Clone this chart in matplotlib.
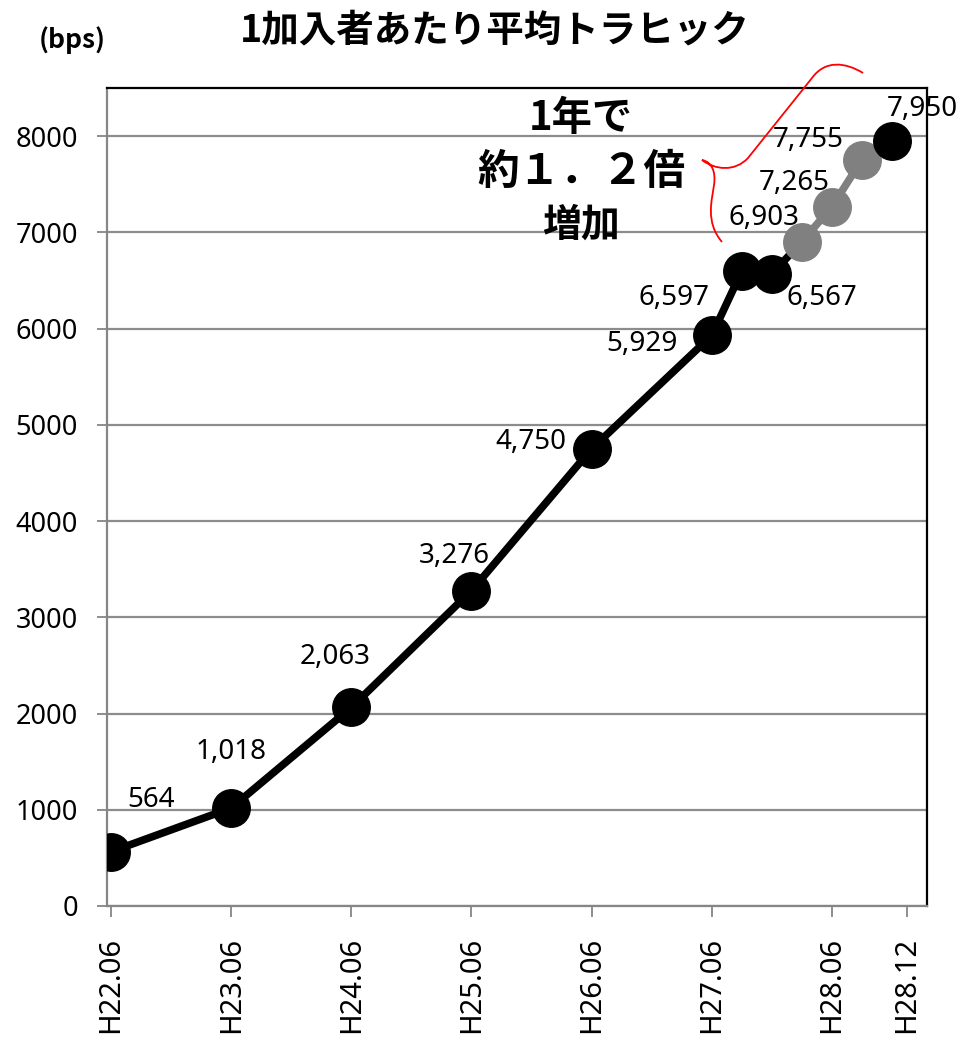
import matplotlib
matplotlib.use("Agg")
import matplotlib.pyplot as plt
from matplotlib.path import Path
import matplotlib.patches as mpatches

plt.rcParams['font.family'] = ['Noto Sans', 'Noto Sans CJK JP']

# data: months since H22.06, traffic per subscriber (bps)
months = [0, 12, 24, 36, 48, 60, 63, 66, 69, 72, 75, 78]
traffic = [564, 1018, 2063, 3276, 4750, 5929, 6597, 6567, 6903, 7265, 7755, 7950]
point_colors = ['black'] * 8 + ['#808080'] * 3 + ['black']
value_labels = ['564', '1,018', '2,063', '3,276', '4,750', '5,929', '6,597', '6,567',
                '6,903', '7,265', '7,755', '7,950']
tick_pos = [0, 12, 24, 36, 48, 60, 72, 79.5]
tick_labels = ['H22.06', 'H23.06', 'H24.06', 'H25.06', 'H26.06', 'H27.06', 'H28.06', 'H28.12']

# label offsets (points) relative to each marker
label_offsets = [(29, 37), (0, 40), (-12, 36), (-12, 25), (-44, 5), (-50, -6),
                 (-49, -19), (36, -17), (-27, 17), (-27, 17), (-39, 14), (22, 23)]

W, H = 963, 1040
fig = plt.figure(figsize=(W / 100, H / 100), dpi=100)
ax = fig.add_axes([107 / W, 1 - 906 / H, (927 - 107) / W, (906 - 88) / H])

# line segments take the colour of their starting point
for i in range(len(months) - 1):
    ax.plot(months[i:i + 2], traffic[i:i + 2], color=point_colors[i], linewidth=5.5,
            solid_capstyle='round', zorder=3)
for x, y, c in zip(months, traffic, point_colors):
    ax.plot(x, y, 'o', color=c, markersize=27, zorder=4)

for x, y, lab, off in zip(months, traffic, value_labels, label_offsets):
    ax.annotate(lab, xy=(x, y), xytext=off, textcoords='offset points',
                ha='center', va='center', fontsize=20, zorder=5, annotation_clip=False)

ax.set_xlim(-0.4, 81.5)
ax.set_ylim(0, 8500)
ax.set_yticks(range(0, 9000, 1000))
ax.set_xticks(tick_pos)
ax.set_xticklabels(tick_labels, rotation=90, fontsize=21)
ax.tick_params(axis='y', labelsize=19.5, length=7, width=1.3, color='#868686', pad=14)
ax.tick_params(axis='x', length=8, width=1.3, color='#868686', pad=14)
ax.get_xticklines()[-2].set_color('#4a7ebb')

ax.grid(axis='y', color='#8c8c8c', linewidth=1.6)
ax.set_axisbelow(True)
for s in ['left', 'bottom']:
    ax.spines[s].set_color('#868686')
    ax.spines[s].set_linewidth(1.6)
for s in ['top', 'right']:
    ax.spines[s].set_color('black')
    ax.spines[s].set_linewidth(1.6)

cjk = ['Noto Sans CJK JP', 'DejaVu Sans']
fig.text(495 / W, 1 - 30 / H, '1加入者あたり平均トラヒック', ha='center', va='center',
         fontsize=27, fontweight='bold', family=cjk)
fig.text(72 / W, 1 - 40 / H, '(bps)', ha='center', va='center', fontsize=19,
         fontweight='bold', family=cjk)

fig.text(581 / W, 1 - 118 / H, '1年で', ha='center', va='center', fontsize=29,
         fontweight='bold', family=cjk)
fig.text(581 / W, 1 - 172 / H, '約１．２倍', ha='center', va='center', fontsize=30,
         fontweight='bold', family=cjk)
fig.text(581 / W, 1 - 225 / H, '増加', ha='center', va='center', fontsize=28,
         fontweight='bold', family=cjk)

# red brace
pts = [(722, 242), (705, 222), (712, 200), (714, 185),
       (716, 172), (712, 162), (702, 160),
       (715, 170), (735, 172), (748, 158),
       (812, 78),
       (825, 60), (845, 62), (863, 73)]
codes = [Path.MOVETO] + [Path.CURVE4] * 9 + [Path.LINETO] + [Path.CURVE4] * 3
verts = [(x / W, 1 - y / H) for x, y in pts]
brace = mpatches.PathPatch(Path(verts, codes), facecolor='none', edgecolor='red',
                           linewidth=1.3, transform=fig.transFigure)
fig.patches.append(brace)

fig.savefig('out.png', dpi=100, facecolor='white')
